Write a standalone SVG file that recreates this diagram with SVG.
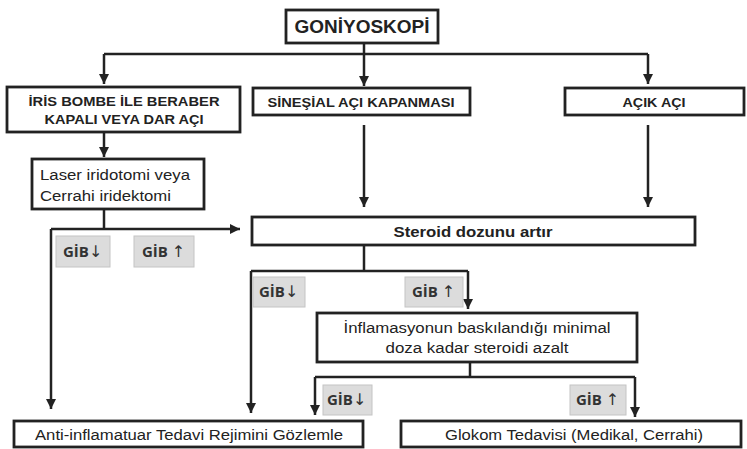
<svg xmlns="http://www.w3.org/2000/svg" width="747" height="449" viewBox="0 0 747 449">
<style>
.box{fill:#fff;stroke:#222;stroke-width:2.8}
.gib{fill:#dcdcdc;stroke:#c4c4c4;stroke-width:1}
.t{font-family:"Liberation Sans",Arial,sans-serif;fill:#222;text-anchor:middle}
.s{text-anchor:start}
.b{font-weight:bold}
.g{font-family:"Open Sans","Noto Sans",sans-serif;font-weight:bold;font-size:15px;fill:#333}
.ar{font-family:"DejaVu Sans",sans-serif;font-weight:normal;font-size:16px}
.c{fill:none;stroke:#222;stroke-width:2.5}
</style>
<defs>
<marker id="ah" markerUnits="userSpaceOnUse" markerWidth="12" markerHeight="12" viewBox="0 0 12 12" refX="10" refY="6" orient="auto">
<path d="M0,1 L10,6 L0,11 Z" fill="#222"/>
</marker>
</defs>
<rect width="747" height="449" fill="#fff"/>
<g id="connectors">
<path class="c" d="M364,43 V86" marker-end="url(#ah)"/>
<path class="c" d="M104,54 H648"/>
<path class="c" d="M104,54 V84" marker-end="url(#ah)"/>
<path class="c" d="M648,54 V84" marker-end="url(#ah)"/>
<path class="c" d="M104,132 V157" marker-end="url(#ah)"/>
<path class="c" d="M104,209 V229"/>
<path class="c" d="M51,229 H240" marker-end="url(#ah)"/>
<path class="c" d="M51,229 V409" marker-end="url(#ah)"/>
<path class="c" d="M364,125 V207" marker-end="url(#ah)"/>
<path class="c" d="M648,125 V207" marker-end="url(#ah)"/>
<path class="c" d="M364,245 V271"/>
<path class="c" d="M251,271 H468"/>
<path class="c" d="M251,271 V413" marker-end="url(#ah)"/>
<path class="c" d="M468,271 V309" marker-end="url(#ah)"/>
<path class="c" d="M470,362 V377"/>
<path class="c" d="M315,377 H635"/>
<path class="c" d="M315,377 V415" marker-end="url(#ah)"/>
<path class="c" d="M635,377 V417" marker-end="url(#ah)"/>
</g>
<g id="goniyoskopi">
<rect class="box" x="286" y="10" width="152" height="33"/>
<text class="t b" x="362" y="33" font-size="18" textLength="135" lengthAdjust="spacingAndGlyphs">GONİYOSKOPİ</text>
</g>
<g id="iris">
<rect class="box" x="7" y="87" width="233" height="45"/>
<text class="t b" x="124" y="106" font-size="13.5" textLength="191" lengthAdjust="spacingAndGlyphs">İRİS BOMBE İLE BERABER</text>
<text class="t b" x="124" y="124" font-size="13.5" textLength="159" lengthAdjust="spacingAndGlyphs">KAPALI VEYA DAR AÇI</text>
</g>
<g id="sinesial">
<rect class="box" x="253" y="88" width="217" height="27"/>
<text class="t b" x="361" y="107" font-size="13.5" textLength="187" lengthAdjust="spacingAndGlyphs">SİNEŞİAL AÇI KAPANMASI</text>
</g>
<g id="acik">
<rect class="box" x="565" y="88" width="179" height="27"/>
<text class="t b" x="654" y="107" font-size="13.5" textLength="63" lengthAdjust="spacingAndGlyphs">AÇIK AÇI</text>
</g>
<g id="laser">
<rect class="box" x="32" y="159" width="172" height="50"/>
<text class="t s" x="40" y="180" font-size="15.5" textLength="150" lengthAdjust="spacingAndGlyphs">Laser iridotomi veya</text>
<text class="t s" x="40" y="201" font-size="15.5" textLength="131" lengthAdjust="spacingAndGlyphs">Cerrahi iridektomi</text>
</g>
<g id="gib1">
<rect class="gib" x="56" y="236" width="54" height="31"/>
<text class="g" x="63" y="257">GİB<tspan class="ar">↓</tspan></text>
</g>
<g id="gib2">
<rect class="gib" x="134" y="236" width="60" height="31"/>
<text class="g" x="142" y="257">GİB <tspan class="ar">↑</tspan></text>
</g>
<g id="steroid">
<rect class="box" x="252" y="217" width="443" height="28"/>
<text class="t b" x="473" y="237" font-size="15" textLength="159" lengthAdjust="spacingAndGlyphs">Steroid dozunu artır</text>
</g>
<g id="gib3">
<rect class="gib" x="253" y="277" width="52" height="30"/>
<text class="g" x="259" y="297">GİB<tspan class="ar">↓</tspan></text>
</g>
<g id="gib4">
<rect class="gib" x="405" y="277" width="58" height="30"/>
<text class="g" x="412" y="297">GİB <tspan class="ar">↑</tspan></text>
</g>
<g id="inflamasyon">
<rect class="box" x="317" y="313" width="320" height="49"/>
<text class="t" x="477" y="333" font-size="15.5" textLength="267" lengthAdjust="spacingAndGlyphs">İnflamasyonun baskılandığı minimal</text>
<text class="t" x="477" y="353" font-size="15.5" textLength="183" lengthAdjust="spacingAndGlyphs">doza kadar steroidi azalt</text>
</g>
<g id="gib5">
<rect class="gib" x="323" y="385" width="49" height="30"/>
<text class="g" x="327" y="405">GİB<tspan class="ar">↓</tspan></text>
</g>
<g id="gib6">
<rect class="gib" x="570" y="385" width="56" height="30"/>
<text class="g" x="576" y="405">GİB <tspan class="ar">↑</tspan></text>
</g>
<g id="anti">
<rect class="box" x="14" y="421" width="349" height="26"/>
<text class="t" x="189" y="440" font-size="15.5" textLength="308" lengthAdjust="spacingAndGlyphs">Anti-inflamatuar Tedavi Rejimini Gözlemle</text>
</g>
<g id="glokom">
<rect class="box" x="401" y="421" width="340" height="26"/>
<text class="t" x="574" y="440" font-size="15.5" textLength="258" lengthAdjust="spacingAndGlyphs">Glokom Tedavisi (Medikal, Cerrahi)</text>
</g>
</svg>
